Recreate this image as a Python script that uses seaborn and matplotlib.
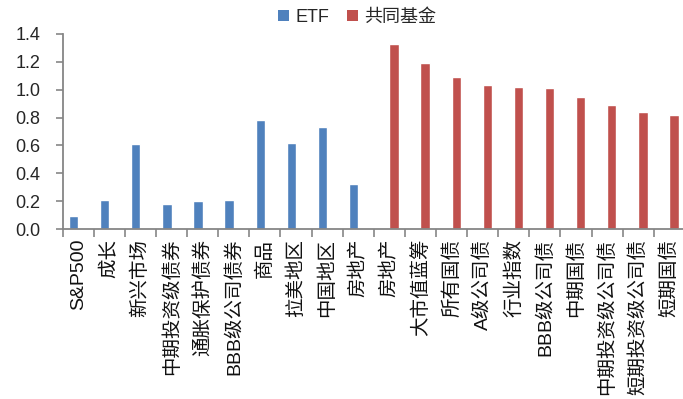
import matplotlib
matplotlib.use("Agg")
import matplotlib.pyplot as plt
from matplotlib.patches import Patch
from matplotlib.ticker import FixedLocator, FormatStrFormatter
import seaborn as sns
import pandas as pd

# Category labels along the x axis (ETF group first, then mutual funds)
etf_labels = ["S&P500", "成长", "新兴市场", "中期投资级债券", "通胀保护债券",
              "BBB级公司债券", "商品", "拉美地区", "中国地区", "房地产"]
fund_labels = ["房地产", "大市值蓝筹", "所有国债", "A级公司债", "行业指数",
               "BBB级公司债", "中期国债", "中期投资级公司债", "短期投资级公司债", "短期国债"]

etf_values = [0.09, 0.21, 0.61, 0.18, 0.20, 0.21, 0.78, 0.62, 0.73, 0.32]
fund_values = [1.33, 1.19, 1.09, 1.03, 1.02, 1.01, 0.95, 0.89, 0.84, 0.82]

series_names = ["ETF", "共同基金"]
y_ticks = [0.0, 0.2, 0.4, 0.6, 0.8, 1.0, 1.2, 1.4]

colors = {"ETF": "#4F81BD", "共同基金": "#C0504D"}
axis_gray = "#868686"
cjk_family = ["Liberation Sans", "Noto Sans CJK SC", "DejaVu Sans"]

labels = etf_labels + fund_labels
n = len(labels)
df = pd.DataFrame({
    "pos": list(range(n)),
    "value": etf_values + fund_values,
    "series": [series_names[0]] * len(etf_values) + [series_names[1]] * len(fund_values),
})

sns.set_style("white")
plt.rcParams["font.family"] = cjk_family

fig = plt.figure(figsize=(6.83, 3.99), dpi=100)
ax = fig.add_axes([0.0918, 0.426, 0.911, 0.489])

sns.barplot(data=df, x="pos", y="value", hue="series", order=list(range(n)),
            hue_order=series_names, palette=colors, width=0.6, dodge=True,
            errorbar=None, ax=ax, saturation=1, legend=False)

ax.set_xlim(-0.5, n - 0.5)
ax.set_ylim(0, 1.4)
ax.set_xlabel("")
ax.set_ylabel("")

# y axis
ax.set_yticks(y_ticks)
ax.yaxis.set_major_formatter(FormatStrFormatter("%.1f"))
ax.tick_params(axis="y", which="major", direction="out", length=5, width=1.2,
               color=axis_gray, labelsize=13, pad=11, left=True)
for t in ax.get_yticklabels():
    t.set_family(["Liberation Sans", "DejaVu Sans"])

# x axis: labels at category centres, tick marks between categories
ax.set_xticks(range(n))
ax.set_xticklabels(labels, rotation=90, va="top", ha="center",
                   fontsize=14, family=cjk_family, color="#111111")
ax.tick_params(axis="x", which="major", length=0, pad=7)
ax.xaxis.set_minor_locator(FixedLocator([i - 0.5 for i in range(n + 1)]))
ax.tick_params(axis="x", which="minor", direction="out", length=6, width=1.2,
               color=axis_gray, bottom=True)

for side in ["top", "right"]:
    ax.spines[side].set_visible(False)
for side in ["left", "bottom"]:
    ax.spines[side].set_color(axis_gray)
    ax.spines[side].set_linewidth(1.3)
ax.grid(False)

handles = [Patch(facecolor=colors[s], edgecolor="none") for s in series_names]
fig.legend(handles, series_names, loc="center", bbox_to_anchor=(0.523, 0.957),
           ncol=2, frameon=False, handlelength=0.6, handleheight=0.6,
           handletextpad=0.35, columnspacing=1.0, prop={"family": cjk_family, "size": 13})

fig.savefig("out.png", dpi=100)
